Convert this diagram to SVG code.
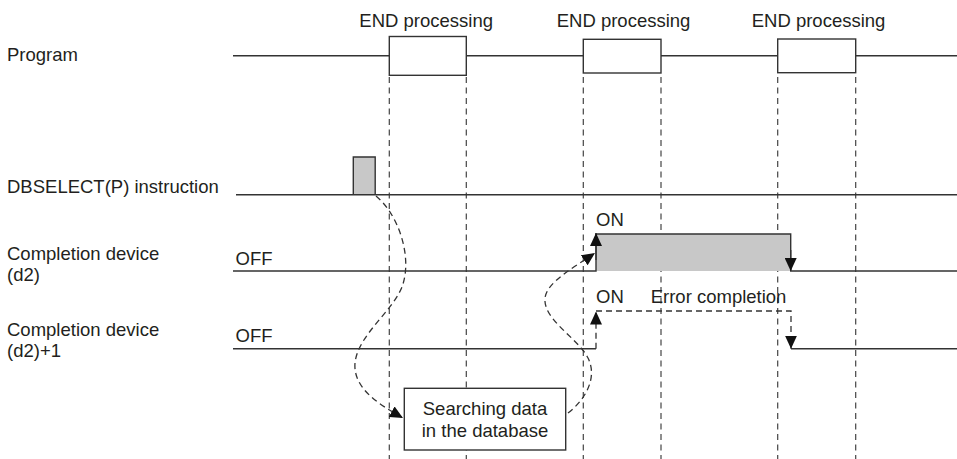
<svg xmlns="http://www.w3.org/2000/svg" width="957" height="459" viewBox="0 0 957 459">
<defs>
<style>
text{font-family:"Liberation Sans",Arial,sans-serif;font-size:18.5px;fill:#231f20}
.ln{fill:none;stroke:#333;stroke-width:1.4}
.gl{stroke:#444;stroke-width:1.2;stroke-dasharray:6 4.5;fill:none}
.ds{stroke:#333;stroke-width:1.3;stroke-dasharray:6 4;fill:none}
.bx{fill:#fff;stroke:#333;stroke-width:1.4}
.sh{fill:#c8c8c8;stroke:#333;stroke-width:1.4}
</style>
<marker id="ah" viewBox="0 0 13 12" refX="13" refY="6" markerWidth="13" markerHeight="12" markerUnits="userSpaceOnUse" orient="auto">
<path d="M0,0 L13,6 L0,12 z" fill="#111"/>
</marker>
</defs>
<rect width="957" height="459" fill="#fff"/>

<g id="labels">
<text x="7" y="61">Program</text>
<text x="7" y="193">DBSELECT(P) instruction</text>
<text x="7" y="260">Completion device</text>
<text x="7" y="281">(d2)</text>
<text x="7" y="336">Completion device</text>
<text x="7" y="357">(d2)+1</text>
</g>

<g id="grid">
<line class="gl" x1="389.3" y1="77" x2="389.3" y2="459"/>
<line class="gl" x1="466.3" y1="77" x2="466.3" y2="459"/>
<line class="gl" x1="583.3" y1="77" x2="583.3" y2="459"/>
<line class="gl" x1="661" y1="77" x2="661" y2="459"/>
<line class="gl" x1="777.7" y1="77" x2="777.7" y2="459"/>
<line class="gl" x1="855.7" y1="77" x2="855.7" y2="459"/>
</g>

<g id="program">
<line class="ln" x1="233" y1="55.8" x2="957" y2="55.8"/>
</g>
<g id="end1">
<rect class="bx" x="389.3" y="36.5" width="77" height="38.8"/>
<text x="359.3" y="26.7">END processing</text>
</g>
<g id="end2">
<rect class="bx" x="583.3" y="39.3" width="77.7" height="33.7"/>
<text x="556.7" y="26.7">END processing</text>
</g>
<g id="end3">
<rect class="bx" x="777.7" y="39" width="78" height="33.7"/>
<text x="751.7" y="26.7">END processing</text>
</g>

<g id="dbselect">
<path class="sh" d="M353.3,194.7 V157 H375.2 V194.7"/>
<line class="ln" x1="236" y1="194.7" x2="957" y2="194.7"/>
</g>

<g id="d2">
<rect x="596" y="234" width="194.7" height="37" fill="#c8c8c8"/>
<path class="ln" d="M233,271 H596 V234 H790.7 V271 H957"/>
<text x="235.5" y="265">OFF</text>
<text x="596" y="226">ON</text>
</g>

<g id="d2p1">
<path class="ln" d="M233,348.7 H596"/>
<path class="ln" d="M791,348.7 H957"/>
<text x="235.5" y="341.7">OFF</text>
<text x="596" y="303.3">ON</text>
<text x="650.7" y="303.3">Error completion</text>
</g>

<g id="search">
<rect class="bx" x="404.3" y="388.3" width="161.4" height="61.7"/>
<text x="485" y="415" text-anchor="middle">Searching data</text>
<text x="485" y="436.5" text-anchor="middle">in the database</text>
</g>

<g id="connectors">
<line class="ln" x1="596" y1="260" x2="596" y2="233" marker-end="url(#ah)"/>
<line class="ln" x1="790.7" y1="250" x2="790.7" y2="271" marker-end="url(#ah)"/>
<path class="ds" d="M596,348.7 V311.5" marker-end="url(#ah)"/>
<path class="ds" d="M596,311 H791 V348.7" marker-end="url(#ah)"/>
<path class="ds" d="M376,196 C398,214 412,255 403,284 C395,310 358,334 355,363 C353,388 378,404 403,418" marker-end="url(#ah)"/>
<path class="ds" d="M568,413 C585,400 598,378 588,358 C578,338 543,320 545,298 C547,282 573,268 595,253" marker-end="url(#ah)"/>
</g>
</svg>
